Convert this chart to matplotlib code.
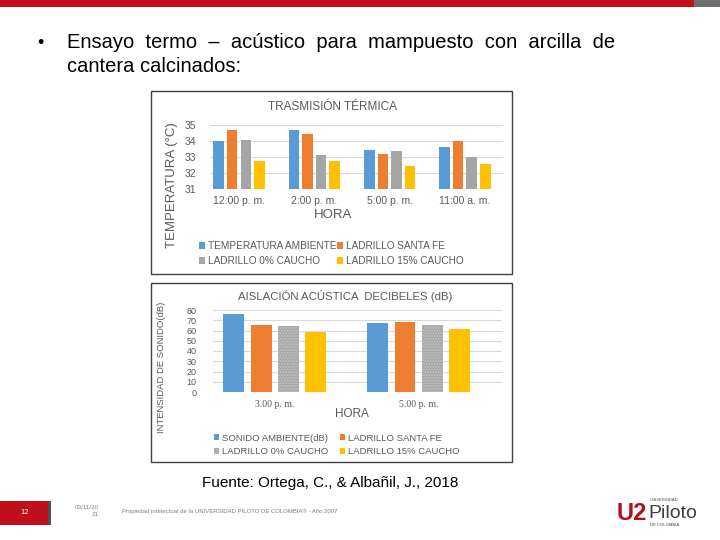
import numpy as np
from matplotlib import pyplot as plt
from matplotlib.patches import Rectangle

# Chart 1: thermal transmission
horas_termica = ['12:00 p. m.', '2:00 p. m.', '5:00 p. m.', '11:00 a. m.']
temp_ambiente = [34.0, 34.7, 33.45, 33.6]
temp_santa_fe = [34.7, 34.45, 33.2, 34.0]
temp_0_caucho = [34.05, 33.12, 33.4, 33.0]
temp_15_caucho = [32.77, 32.77, 32.46, 32.58]

# Chart 2: acoustic insulation
horas_acustica = ['3.00 p. m.', '5.00 p. m.']
sonido_ambiente = [76, 67.5]
sonido_santa_fe = [65.5, 68]
sonido_0_caucho = [64, 65.5]
sonido_15_caucho = [59, 61]

colors = ['#5B9BD5', '#ED7D31', '#A5A5A5', '#FFC000']
grey_text = '#595959'

W, H = 720, 540
fig = plt.figure(figsize=(7.2, 5.4), dpi=100)
plt.rcParams['font.family'] = ['Liberation Sans', 'DejaVu Sans']


def px_axes(x0, y0, x1, y1):
    # axes from pixel box (top-left origin)
    return fig.add_axes([x0 / W, 1 - y1 / H, (x1 - x0) / W, (y1 - y0) / H])


def fig_text(x, y, s, **kw):
    fig.text(x / W, 1 - y / H, s, **kw)


def box(x0, y0, x1, y1, **kw):
    fig.patches.append(Rectangle((x0 / W, 1 - y1 / H), (x1 - x0) / W, (y1 - y0) / H,
                                 transform=fig.transFigure, **kw))


# slide decoration
box(0, 0, 694, 7, facecolor='#C00E1A', edgecolor='none')
box(694, 0, 720, 7, facecolor='#6E6E6E', edgecolor='none')
fig_text(40, 43, '•', fontsize=13, va='center', ha='center')
fig_text(67, 43, 'Ensayo  termo  –  acústico  para  mampuesto  con  arcilla  de',
         fontsize=14.5, va='center', ha='left')
fig_text(67, 67, 'cantera calcinados:', fontsize=14.5, va='center', ha='left')

# chart frames
box(151, 91, 512, 274, facecolor='none', edgecolor='#404040', linewidth=1)
box(151, 283, 512, 462, facecolor='none', edgecolor='#404040', linewidth=1)


def bar_chart(ax, cats, series, labels, ylim, yticks, width, pitch, hatch_grey=False):
    x = np.arange(len(cats))
    for i, (vals, lab) in enumerate(zip(series, labels)):
        kw = {}
        if hatch_grey and i == 2:
            kw = dict(hatch='......', edgecolor='#C4C4C4', linewidth=0)
        ax.bar(x + (i - 1.5) * pitch, vals, width, color=colors[i], label=lab, zorder=3, **kw)
    ax.set_ylim(*ylim)
    ax.set_yticks(yticks)
    ax.set_xticks(x)
    ax.set_xticklabels(cats)
    ax.grid(axis='y', color='#D9D9D9', linewidth=0.8, zorder=0)
    for s in ax.spines.values():
        s.set_visible(False)
    ax.tick_params(length=0, colors=grey_text)
    ax.patch.set_alpha(0)


def row_legend(ax, x, y, fontsize, colspacing, labelspacing):
    # legend filled row by row, like the original
    h, l = ax.get_legend_handles_labels()
    order = [0, 2, 1, 3]
    leg = ax.legend([h[i] for i in order], [l[i] for i in order], loc='upper left',
                    bbox_to_anchor=(x / W, 1 - y / H), bbox_transform=fig.transFigure,
                    ncol=2, frameon=False, fontsize=fontsize, handlelength=0.6,
                    handleheight=0.6, handletextpad=0.3, columnspacing=colspacing,
                    labelspacing=labelspacing, borderpad=0)
    for t in leg.get_texts():
        t.set_color(grey_text)


# --- chart 1 ---
ax1 = px_axes(210, 125, 503, 189)
bar_chart(ax1, horas_termica,
          [temp_ambiente, temp_santa_fe, temp_0_caucho, temp_15_caucho],
          ['TEMPERATURA AMBIENTE', 'LADRILLO SANTA FE', 'LADRILLO 0% CAUCHO', 'LADRILLO 15% CAUCHO'],
          (31, 35), [31, 32, 33, 34, 35], 0.14, 0.18)
ax1.set_xlim(-0.385, 3.505)
ax1.tick_params(axis='y', labelsize=7.5, pad=10)
ax1.tick_params(axis='x', labelsize=7.5, pad=5)
fig_text(333, 107, 'TRASMISIÓN TÉRMICA', fontsize=8.5, color=grey_text, ha='center', va='center')
fig_text(333, 215, 'HORA', fontsize=9.5, color=grey_text, ha='center', va='center')
fig_text(172, 185, 'TEMPERATURA (°C)', fontsize=9.5, color=grey_text, ha='center', va='center',
         rotation=90)
row_legend(ax1, 194, 236, 7.2, 0.05, 0.5)

# --- chart 2 ---
ax2 = px_axes(213, 310, 502, 392)
bar_chart(ax2, horas_acustica,
          [sonido_ambiente, sonido_santa_fe, sonido_0_caucho, sonido_15_caucho],
          ['SONIDO AMBIENTE(dB)', 'LADRILLO SANTA FE', 'LADRILLO 0% CAUCHO', 'LADRILLO 15% CAUCHO'],
          (0, 80), list(range(0, 81, 10)), 0.145, 0.19, hatch_grey=True)
ax2.set_xlim(-0.43, 1.58)
ax2.tick_params(axis='y', labelsize=6.5, pad=12)
ax2.tick_params(axis='x', labelsize=7, pad=6)
for t in ax2.get_xticklabels():
    t.set_family('Liberation Serif')
fig_text(345, 296, 'AISLACIÓN ACÚSTICA  DECIBELES (dB)', fontsize=8.2, color=grey_text,
         ha='center', va='center')
fig_text(352, 414, 'HORA', fontsize=8.5, color=grey_text, ha='center', va='center')
fig_text(162, 367, 'INTENSIDAD DE SONIDO(dB)', fontsize=6.8, color=grey_text, ha='center',
         va='center', rotation=90)
row_legend(ax2, 209, 429, 6.8, 1.2, 0.45)

# source and footer
fig_text(330, 483, 'Fuente: Ortega, C., & Albañil, J., 2018', fontsize=11, ha='center',
         va='center')
box(0, 501, 48, 525, facecolor='#C00E1A', edgecolor='none')
box(48, 501, 51, 525, facecolor='#505050', edgecolor='none')
fig_text(25, 513, '12', fontsize=5.5, color='white', ha='center', va='center')
fig_text(99, 511, '03/11/20\n21', fontsize=4.5, color='#7F7F7F', ha='right', va='center',
         multialignment='right', linespacing=1.3)
fig_text(122, 511, 'Propiedad intelectual de la UNIVERSIDAD PILOTO DE COLOMBIA® - Año 2007',
         fontsize=4.3, color='#7F7F7F', ha='left', va='center')
fig_text(632, 513, 'U2', fontsize=17, fontweight='bold', color='#B0121C', ha='center',
         va='center')
fig_text(648, 513, 'Piloto', fontsize=14, color='#404040', ha='left', va='center')
fig_text(650, 500, 'UNIVERSIDAD', fontsize=3, color='#404040', ha='left', va='center')
fig_text(650, 525, 'DE COLOMBIA', fontsize=3, color='#404040', ha='left', va='center')

fig.savefig('out.png', dpi=100)
